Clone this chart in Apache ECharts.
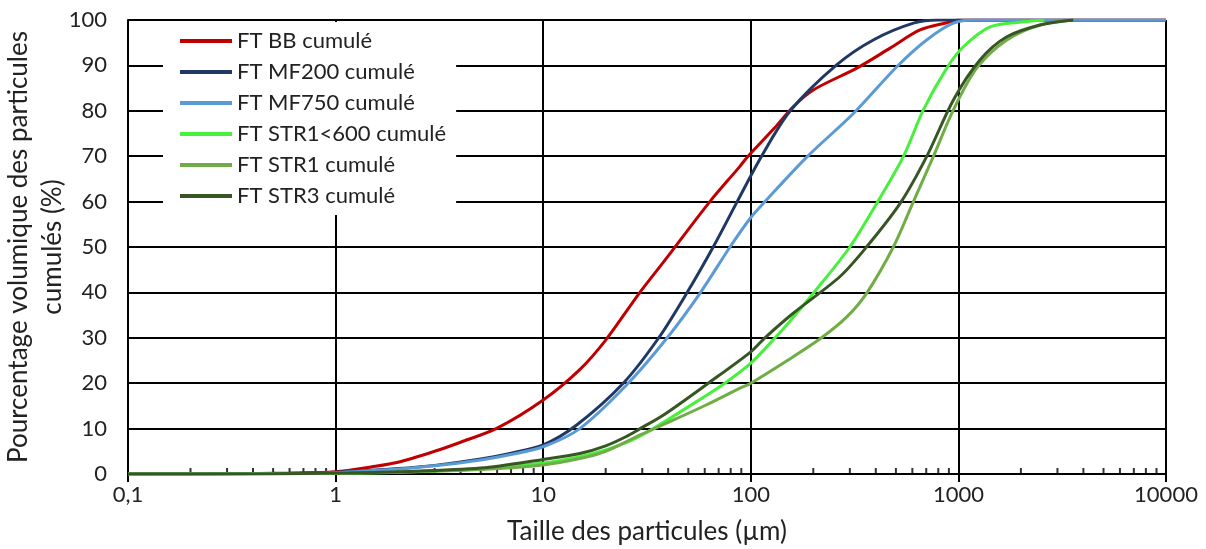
<!DOCTYPE html>
<html><head><meta charset="utf-8">
<script src="https://cdn.jsdelivr.net/npm/echarts@6/dist/echarts.min.js"></script>
<style>html,body{margin:0;padding:0;background:#fff}#c{width:1206px;height:549px}</style>
</head><body><div id="c"></div>
<script>
// ---- data ----
const xTickLabels = ["0,1", "1", "10", "100", "1000", "10000"];
const minorTicks = [0.2,0.3,0.4,0.5,0.6,0.7,0.8,0.9, 2,3,4,5,6,7,8,9, 20,30,40,50,60,70,80,90,
                    200,300,400,500,600,700,800,900, 2000,3000,4000,5000,6000,7000,8000,9000];

const seriesNames = ["FT BB cumulé", "FT MF200 cumulé", "FT MF750 cumulé", "FT STR1<600 cumulé", "FT STR1 cumulé", "FT STR3 cumulé"];
const seriesColors = ["#C00000", "#203864", "#5B9BD5", "#47F03A", "#70AD47", "#375623"];

const bbSize = [0.1, 0.3, 0.6, 1, 1.5, 2, 3, 4, 6, 10, 15, 20, 29, 38.6, 63.5, 88, 97, 130, 160, 200, 324, 469, 653, 880, 1000, 10000];
const bbCum  = [0, 0.05, 0.2, 0.5, 1.6, 2.6, 5.0, 7.0, 10.1, 16.3, 23, 29.5, 39.8, 47.1, 60, 67.6, 70, 76.2, 80.9, 84.6, 89.4, 93.8, 97.8, 99.4, 100, 100];

const mf200Size = [0.1, 0.5, 1, 2, 3, 5, 7, 10, 14.5, 24.3, 35.9, 49.1, 65.9, 86, 112.7, 155, 259, 389, 607, 800, 10000];
const mf200Cum  = [0, 0.1, 0.4, 1.2, 1.9, 3.3, 4.6, 6.4, 10.8, 20, 29.9, 39.8, 50, 60, 70, 80, 90.1, 95.6, 99.3, 100, 100];

const mf750Size = [0.1, 0.5, 1, 2, 3, 5, 7, 10, 15, 25.2, 39.4, 56.9, 79.4, 100, 117, 186, 312, 505, 703, 946, 1200, 10000];
const mf750Cum  = [0, 0.1, 0.3, 1.1, 1.8, 3.1, 4.3, 6.0, 10.0, 19.6, 29.9, 39.8, 50, 56.5, 60, 69.8, 79.4, 89.7, 95.6, 99.3, 100, 100];

const str1b600Size = [0.1, 0.5, 1, 2, 5, 10, 15, 20, 26.2, 33.9, 55, 75, 100, 131, 154, 200, 300, 404, 543, 678, 879, 1057, 1420, 2055, 2600];
const str1b600Cum  = [0, 0.05, 0.15, 0.4, 1.1, 2.4, 3.8, 5.3, 7.3, 10, 16, 20, 24.4, 30, 33.6, 39.8, 50, 59.6, 69.9, 80.2, 89.4, 94.1, 98.5, 99.6, 100];

const str1Size = [0.1, 0.5, 1, 2, 5, 10, 15, 20, 29.3, 42.5, 60.9, 88.7, 100, 150, 219, 290, 361, 486, 607, 757, 946, 1225, 1711, 2472, 3573];
const str1Cum  = [0, 0.05, 0.15, 0.4, 1.0, 2.0, 3.4, 5.0, 8.6, 11.9, 15.2, 18.9, 20, 25, 30, 34.6, 39.8, 50, 60, 69.9, 80.2, 89.4, 95.6, 98.9, 100];

const str3Size = [0.1, 0.5, 1, 2, 5, 10, 15, 20, 25, 29.3, 38, 62.4, 100, 117, 160, 269, 361, 524, 703, 946, 1270, 1711, 2472, 3573];
const str3Cum  = [0, 0.05, 0.2, 0.5, 1.3, 3.2, 4.5, 6.2, 8.2, 10, 13, 20, 26.9, 30, 35.4, 43.5, 50, 59.6, 69.9, 82.4, 91.2, 96.3, 98.9, 100];

const sizes = [bbSize, mf200Size, mf750Size, str1b600Size, str1Size, str3Size];
const cums  = [bbCum, mf200Cum, mf750Cum, str1b600Cum, str1Cum, str3Cum];

// ---- chart ----
const FONT = 'Lato';
const chart = echarts.init(document.getElementById('c'), null, {renderer: 'canvas'});

const lineSeries = seriesNames.map((name, i) => ({
  name: name,
  type: 'line',
  data: sizes[i].map((x, j) => [x, cums[i][j]]),
  smooth: 0.3,
  symbol: 'none',
  showSymbol: false,
  lineStyle: {width: 3, color: seriesColors[i]},
  itemStyle: {color: seriesColors[i]},
  z: 3 + i
}));

const option = {
  animation: false,
  backgroundColor: '#fff',
  textStyle: {fontFamily: FONT},
  grid: {left: 128, right: 40, top: 20, bottom: 75, containLabel: false, outerBoundsMode: 'none'},
  legend: {
    data: seriesNames,
    orient: 'vertical',
    left: 163, top: 22,
    padding: [8, 10, 8, 17],
    backgroundColor: '#fff',
    icon: 'rect',
    itemWidth: 52, itemHeight: 4, itemGap: 9,
    textStyle: {fontFamily: FONT, fontSize: 22, color: '#222', lineHeight: 22},
    z: 20
  },
  xAxis: {
    type: 'log', logBase: 10, min: 0.1, max: 10000,
    name: 'Taille des particules (µm)', nameLocation: 'middle', nameGap: 45,
    nameMoveOverlap: false,
    nameTextStyle: {fontFamily: FONT, fontSize: 26, color: '#222'},
    axisLine: {show: true, onZero: false, lineStyle: {color: '#000', width: 2}},
    axisTick: {show: true, inside: false, length: 8, lineStyle: {color: '#000', width: 2}},
    axisLabel: {
      fontFamily: FONT, fontSize: 22, color: '#222', margin: 10,
      formatter: v => xTickLabels[Math.round(Math.log10(v)) + 1]
    },
    splitLine: {show: true, lineStyle: {color: '#000', width: 2}}
  },
  yAxis: {
    type: 'value', min: 0, max: 100, interval: 10,
    name: 'Pourcentage volumique des particules\ncumulés (%)',
    nameLocation: 'middle', nameRotate: 90, nameGap: 58,
    nameMoveOverlap: false,
    nameTextStyle: {fontFamily: FONT, fontSize: 26, color: '#222', lineHeight: 34, align: 'center'},
    axisLine: {show: true, lineStyle: {color: '#000', width: 2}},
    axisTick: {show: false},
    axisLabel: {fontFamily: FONT, fontSize: 22, color: '#222', margin: 21},
    splitLine: {show: true, lineStyle: {color: '#000', width: 2}}
  },
  series: lineSeries.concat([{
    name: 'minorTicks',
    type: 'scatter',
    data: minorTicks.map(v => [v, 0]),
    symbol: 'rect',
    symbolSize: [2, 6],
    symbolOffset: [0, -3],
    itemStyle: {color: '#000'},
    silent: true,
    clip: false,
    z: 1
  }])
};
chart.setOption(option);
</script>
</body></html>
